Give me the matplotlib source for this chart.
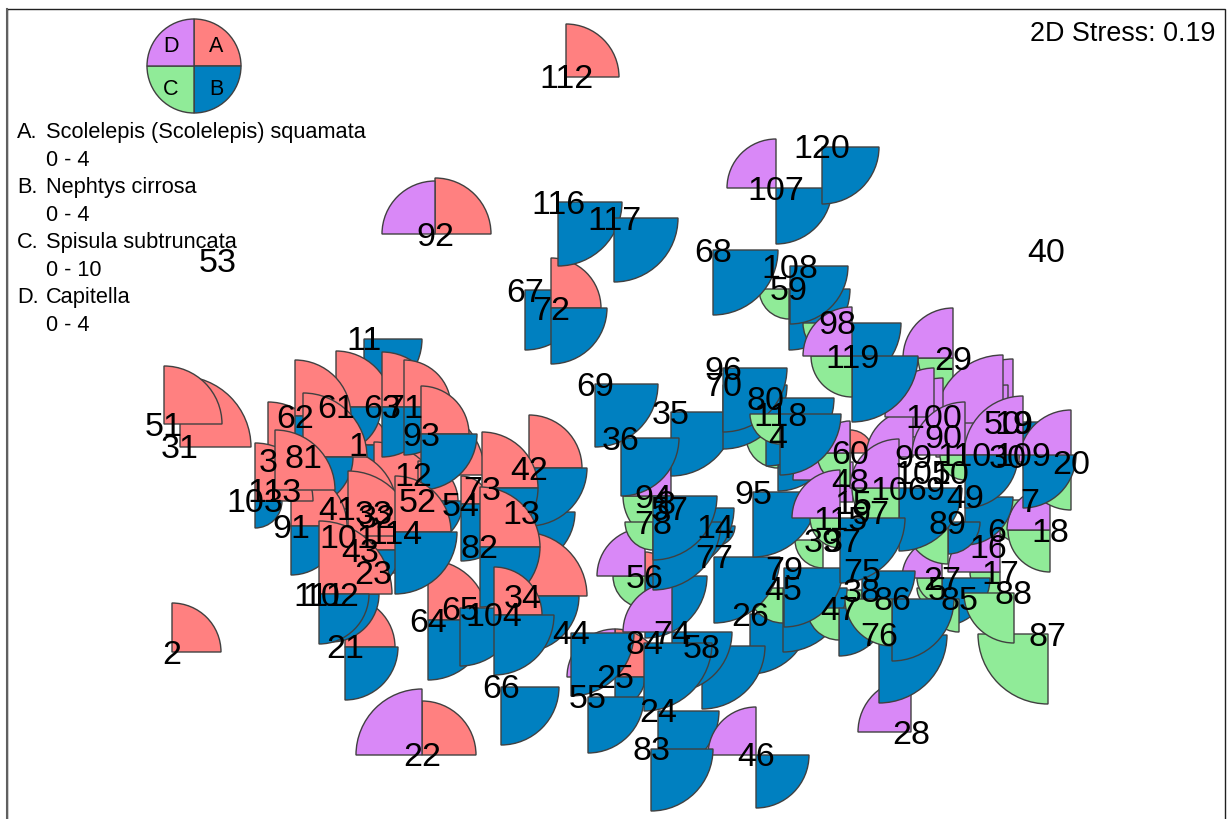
import matplotlib
matplotlib.use("Agg")
import matplotlib.pyplot as plt
from matplotlib.patches import Wedge, Rectangle

plt.rcParams['font.family'] = ['Liberation Sans', 'DejaVu Sans']

samples = [1,2,3,4,5,6,7,8,9,10,11,12,13,14,15,16,17,18,19,20,
           21,22,23,24,25,26,27,28,29,30,31,32,33,34,35,36,37,38,39,40,
           41,42,43,44,45,46,47,48,49,50,51,52,53,54,55,56,57,58,59,60,
           61,62,63,64,65,66,67,68,69,70,71,72,73,74,75,76,77,78,79,80,
           81,82,83,84,85,86,87,88,89,90,91,92,93,94,95,96,97,98,99,100,
           101,102,103,104,105,106,107,108,109,110,111,112,113,114,115,116,117,118,119,120,9]
mds_x = [358,172,268,778,937,997,1030,671,1023,950,364,413,521,715,853,988,1000,1050,1013,1071,
         345,422,373,658,615,750,942,911,953,1008,180,377,374,523,671,621,843,862,823,1046,
         337,529,360,571,783,756,839,850,965,1003,164,418,218,461,588,645,670,702,789,850,
         336,295,382,428,460,501,525,713,595,723,404,551,482,672,862,879,714,653,784,766,
         303,480,651,644,959,892,1048,1014,948,943,291,435,421,653,753,723,870,837,913,934,
         348,331,255,494,923,899,776,790,1023,965,319,566,275,395,840,558,614,780,852,822,935]
mds_y = [445,652,461,436,588,530,500,496,422,473,339,475,512,526,502,546,572,530,423,462,
         647,755,573,711,677,614,578,732,358,457,447,517,513,596,412,438,541,590,540,250,
         509,468,550,633,588,755,608,480,497,423,424,501,260,504,697,576,508,646,289,453,
         407,416,407,620,608,687,290,250,384,385,407,308,488,632,571,635,557,522,568,398,
         457,547,749,643,599,599,634,593,522,437,526,234,434,496,492,368,512,323,457,417,
         536,594,501,615,473,488,188,266,455,455,594,77,490,532,518,202,218,414,356,147,488]
seg_a = [30,49,59,0,0,0,0,0,0,0,0,72,0,0,0,0,0,0,0,0,
         50,54,30,0,48,0,0,0,0,0,71,30,71,64,0,0,0,0,0,0,
         60,53,55,0,0,0,0,0,0,0,58,40,0,28,0,24,0,0,0,23,
         56,56,55,60,0,0,0,0,0,0,47,50,56,0,0,0,0,0,0,0,
         64,60,0,0,0,0,0,0,0,0,56,56,48,0,0,0,0,0,0,0,
         65,0,58,48,0,0,0,0,0,0,73,53,60,56,0,0,0,0,0,0,0]
seg_b = [25,0,30,55,0,0,0,0,34,0,58,0,54,20,0,0,0,0,0,0,
         53,0,0,61,30,60,48,0,0,0,0,0,0,56,64,58,20,0,0,0,
         0,58,40,63,64,53,48,0,48,0,0,45,0,57,56,62,64,63,61,0,
         45,35,50,60,58,58,60,65,63,64,48,56,56,60,53,68,66,68,59,68,
         50,60,62,68,0,62,0,0,32,0,49,0,56,64,65,64,0,64,0,0,
         0,48,27,60,0,63,56,58,53,53,50,0,0,62,65,64,64,61,66,57,0]
seg_c = [0,0,0,32,20,0,45,48,0,0,0,0,0,0,0,0,30,42,0,48,
         0,0,0,0,0,0,25,0,35,0,0,0,0,0,0,0,0,28,28,0,
         0,0,0,0,35,0,32,0,0,0,0,0,0,0,0,32,0,0,30,33,
         0,0,0,0,0,0,0,0,0,0,0,0,0,0,0,0,0,28,0,0,
         0,0,0,0,33,47,70,50,42,0,0,0,0,0,0,0,0,34,0,0,
         0,0,0,0,0,47,0,0,0,25,0,0,0,0,30,0,0,30,41,0,0]
seg_d = [0,0,0,0,0,0,0,46,0,0,0,0,0,0,40,20,52,43,64,52,
         0,66,0,0,48,0,40,53,50,72,0,0,0,0,0,0,0,0,0,0,
         0,0,0,0,0,48,0,57,0,68,0,0,0,0,0,48,0,0,0,32,
         0,0,0,0,0,0,0,0,0,0,0,0,0,49,0,0,0,0,0,0,
         0,0,0,0,0,0,0,0,0,59,0,53,0,0,0,0,0,0,47,49,
         0,0,0,0,0,49,49,0,59,53,0,0,0,0,48,0,0,0,49,0,0]

legend_names = ["Scolelepis (Scolelepis) squamata", "Nephtys cirrosa", "Spisula subtruncata", "Capitella"]
legend_ranges = ["0 - 4", "0 - 4", "0 - 10", "0 - 4"]
legend_keys = ["A.", "B.", "C.", "D."]
stress_text = "2D Stress: 0.19"

COL = {'A': '#FF8080', 'B': '#0080C0', 'C': '#90EB98', 'D': '#D988F7'}
THETA = {'A': (270, 360), 'B': (0, 90), 'C': (90, 180), 'D': (180, 270)}
EDGE = '#404040'
NUDGE = {8: (-5, 6)}

fig = plt.figure(figsize=(12.29, 8.19), dpi=100)
ax = fig.add_axes([0, 0, 1, 1])
ax.set_xlim(0, 1229)
ax.set_ylim(819, 0)
ax.axis('off')

ax.add_patch(Rectangle((7, 9), 1218, 830, fill=False, ec='#202020', lw=1.0, zorder=1))
ax.plot([7, 7], [9, 819], color='#606060', lw=1.5, zorder=1)

for i, s in enumerate(samples):
    for key, vals in zip('ABCD', (seg_a, seg_b, seg_c, seg_d)):
        r = vals[i]
        if r > 0:
            t1, t2 = THETA[key]
            ax.add_patch(Wedge((mds_x[i], mds_y[i]), r, t1, t2, fc=COL[key], ec=EDGE, lw=1.0, zorder=2 + i * 0.01))

for i, s in enumerate(samples):
    dx, dy = NUDGE.get(s, (0, 0))
    ax.text(mds_x[i] + dx, mds_y[i] + dy + 3, str(s), fontsize=24.5, ha='center', va='center', color='black', zorder=10)

# key circle
for key in 'ABCD':
    t1, t2 = THETA[key]
    ax.add_patch(Wedge((194, 66), 47, t1, t2, fc=COL[key], ec=EDGE, lw=1.0, zorder=5))
for key, (x, y) in zip('ABCD', [(216, 52), (216, 95), (171, 95), (171, 52)]):
    ax.text(x, y, key, fontsize=15.5, ha='center', va='baseline', zorder=6)

for j in range(4):
    y0 = 138 + 55 * j
    ax.text(17, y0, legend_keys[j], fontsize=15.7, ha='left', va='baseline', zorder=9)
    ax.text(46, y0, legend_names[j], fontsize=15.7, ha='left', va='baseline', zorder=9)
    ax.text(46, y0 + 28, legend_ranges[j], fontsize=15.7, ha='left', va='baseline', zorder=9)

ax.text(1215, 41, stress_text, fontsize=19.4, ha='right', va='baseline', zorder=9)

fig.savefig('out.png', dpi=100)
